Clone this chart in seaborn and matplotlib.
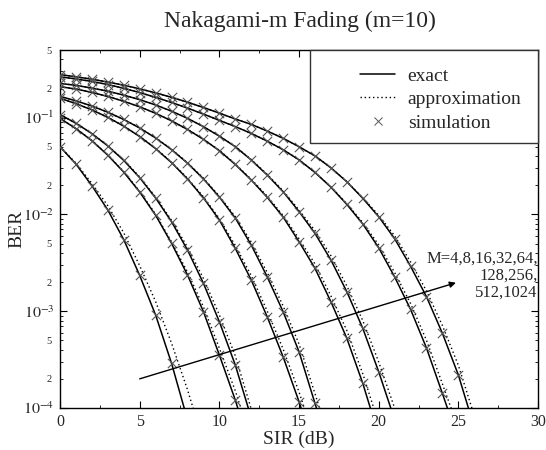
import numpy as np
import pandas as pd
import matplotlib
matplotlib.use("Agg")
import matplotlib.pyplot as plt
import seaborn as sns
from matplotlib.ticker import MultipleLocator
from matplotlib.patches import Rectangle
from matplotlib.lines import Line2D

# ---------------- data (log10 of BER) ----------------
sir_db = list(range(0, 27))
M_values = [4, 8, 16, 32, 64, 128, 256, 512, 1024]

exact_M4 = [-1.300, -1.479, -1.703, -1.954, -2.260, -2.630, -3.039, -3.538, -4.120]
approx_M4 = [-1.300, -1.470, -1.680, -1.910, -2.190, -2.530, -2.900, -3.330, -3.810, -4.350]

exact_M8 = [-1.008, -1.113, -1.238, -1.388, -1.563, -1.768, -2.008, -2.298, -2.625, -3.004, -3.452, -3.917, -4.450]
approx_M8 = [-1.008, -1.112, -1.236, -1.385, -1.558, -1.760, -1.998, -2.283, -2.595, -2.954, -3.382, -3.822, -4.330]

exact_M16 = [-0.968, -1.058, -1.165, -1.292, -1.442, -1.620, -1.830, -2.075, -2.367, -2.711, -3.108, -3.555, -4.100]
approx_M16 = [-0.968, -1.057, -1.163, -1.289, -1.437, -1.612, -1.820, -2.060, -2.337, -2.661, -3.038, -3.460, -4.010, -4.550]

exact_M32 = [-0.800, -0.855, -0.920, -0.997, -1.088, -1.195, -1.320, -1.465, -1.633, -1.828, -2.057, -2.350, -2.677, -3.056, -3.470, -3.934, -4.450]
approx_M32 = [-0.800, -0.855, -0.920, -0.997, -1.087, -1.193, -1.317, -1.460, -1.626, -1.818, -2.042, -2.320, -2.632, -2.996, -3.390, -3.834, -4.330]

exact_M64 = [-0.780, -0.826, -0.880, -0.944, -1.019, -1.107, -1.210, -1.330, -1.470, -1.632, -1.820, -2.037, -2.315, -2.643, -3.004, -3.418, -3.950, -4.500]
approx_M64 = [-0.780, -0.826, -0.880, -0.944, -1.019, -1.106, -1.208, -1.327, -1.465, -1.625, -1.810, -2.022, -2.285, -2.598, -2.944, -3.338, -3.850, -4.380]

exact_M128 = [-0.680, -0.704, -0.739, -0.781, -0.831, -0.888, -0.955, -1.033, -1.122, -1.224, -1.341, -1.484, -1.644, -1.822, -2.026, -2.281, -2.556, -2.901, -3.279, -3.744, -4.280]
approx_M128 = [-0.680, -0.704, -0.739, -0.781, -0.831, -0.888, -0.955, -1.033, -1.121, -1.222, -1.338, -1.479, -1.636, -1.810, -2.011, -2.251, -2.511, -2.841, -3.199, -3.644, -4.160]

exact_M256 = [-0.645, -0.667, -0.694, -0.727, -0.767, -0.814, -0.869, -0.933, -1.007, -1.093, -1.191, -1.300, -1.437, -1.592, -1.765, -1.970, -2.195, -2.470, -2.798, -3.176, -3.624, -4.120]
approx_M256 = [-0.645, -0.667, -0.694, -0.727, -0.767, -0.814, -0.869, -0.933, -1.007, -1.092, -1.189, -1.297, -1.432, -1.585, -1.755, -1.955, -2.165, -2.425, -2.738, -3.096, -3.524, -4.000, -4.520]

exact_M512 = [-0.578, -0.600, -0.626, -0.658, -0.697, -0.741, -0.790, -0.843, -0.901, -0.963, -1.028, -1.092, -1.163, -1.242, -1.331, -1.436, -1.566, -1.718, -1.896, -2.098, -2.344, -2.645, -2.980, -3.380, -3.850, -4.330]
approx_M512 = [-0.578, -0.600, -0.626, -0.658, -0.697, -0.741, -0.790, -0.843, -0.901, -0.963, -1.028, -1.092, -1.163, -1.242, -1.331, -1.436, -1.565, -1.715, -1.890, -2.083, -2.314, -2.600, -2.920, -3.300, -3.750, -4.210]

exact_M1024 = [-0.555, -0.578, -0.603, -0.632, -0.665, -0.702, -0.744, -0.790, -0.840, -0.895, -0.953, -1.014, -1.069, -1.138, -1.213, -1.300, -1.395, -1.518, -1.662, -1.833, -2.023, -2.250, -2.535, -2.850, -3.228, -3.658, -4.200]
approx_M1024 = [-0.555, -0.578, -0.603, -0.632, -0.665, -0.702, -0.744, -0.790, -0.840, -0.895, -0.953, -1.014, -1.069, -1.138, -1.213, -1.300, -1.395, -1.517, -1.660, -1.828, -2.008, -2.220, -2.490, -2.790, -3.148, -3.558, -4.080]

y_major = [1e-4, 1e-3, 1e-2, 1e-1]
y_major_labels = [r"$10^{-4}$", r"$10^{-3}$", r"$10^{-2}$", r"$10^{-1}$"]
legend_labels = ["exact", "approximation", "simulation"]
arrow_text = "M=4,8,16,32,64,\n128,256,\n512,1024"
title_text = "Nakagami-m Fading (m=10)"

exact_lists = [exact_M4, exact_M8, exact_M16, exact_M32, exact_M64,
               exact_M128, exact_M256, exact_M512, exact_M1024]
approx_lists = [approx_M4, approx_M8, approx_M16, approx_M32, approx_M64,
                approx_M128, approx_M256, approx_M512, approx_M1024]

def to_frame(lists):
    rows = []
    for M, vals in zip(M_values, lists):
        for s, v in zip(sir_db, vals):
            rows.append({"M": M, "SIR": s, "BER": 10.0 ** v})
    return pd.DataFrame(rows)

df_exact = to_frame(exact_lists)
df_approx = to_frame(approx_lists)
df_sim = df_exact[df_exact["BER"] >= 1e-4]

# ---------------- style ----------------
sns.set_theme(style="ticks")
plt.rcParams["font.family"] = ["Liberation Serif", "DejaVu Serif"]
plt.rcParams["mathtext.fontset"] = "stix"
plt.rcParams["axes.edgecolor"] = "black"
plt.rcParams["axes.linewidth"] = 1.0

fig = plt.figure(figsize=(5.46, 4.5), dpi=100)
ax = fig.add_axes([60 / 546, 1 - 408 / 450, 478 / 546, 358 / 450])

sns.lineplot(data=df_exact, x="SIR", y="BER", units="M", estimator=None,
             color="black", lw=1.1, ax=ax, legend=False)
sns.lineplot(data=df_approx, x="SIR", y="BER", units="M", estimator=None,
             color="black", lw=1.0, linestyle=(0, (1, 2)), ax=ax, legend=False)
sns.scatterplot(data=df_sim, x="SIR", y="BER", marker="x", color="#555555",
                s=45, linewidth=0.8, ax=ax, legend=False, zorder=3)

ax.set_yscale("log")
ax.set_xlim(0, 30)
ax.set_ylim(1e-4, 0.5)
ax.xaxis.set_major_locator(MultipleLocator(5))
ax.xaxis.set_minor_locator(MultipleLocator(2.5))

ax.set_yticks(y_major, labels=y_major_labels)
minor_pos, minor_lab = [], []
for dec in [1e-4, 1e-3, 1e-2, 1e-1]:
    for k in range(2, 10):
        v = k * dec
        if v <= 0.5 + 1e-9:
            minor_pos.append(v)
            minor_lab.append(str(k) if k in (2, 5) else "")
ax.set_yticks(minor_pos, labels=minor_lab, minor=True)

ax.tick_params(which="both", direction="in", top=True, right=True, color="black")
ax.tick_params(which="major", length=5, width=0.8, labelsize=11.5, pad=4)
ax.tick_params(which="minor", length=2.5, width=0.6)
ax.tick_params(axis="y", which="minor", labelsize=7.5, pad=6)
ax.tick_params(axis="x", which="minor", labelbottom=False)
for sp in ax.spines.values():
    sp.set_visible(True)
    sp.set_color("black")

ax.set_xlabel("SIR (dB)", fontsize=14, labelpad=1)
ax.set_ylabel("BER", fontsize=14)
ax.yaxis.set_label_coords(-0.073, 0.5)
fig.text(300 / 546, 1 - 21 / 450, title_text, ha="center", va="center", fontsize=17)

# arrow + annotation
ax.annotate("", xy=(24.85, 1.97e-3), xytext=(5, 2e-4),
            arrowprops=dict(arrowstyle="-|>", color="black", lw=1.0,
                            mutation_scale=9, shrinkA=0, shrinkB=0))
ax.text(0.999, 0.440, arrow_text, transform=ax.transAxes, ha="right", va="top",
        fontsize=12, multialignment="right", linespacing=1.1)

# legend box
rect = Rectangle(((310 - 60) / 478, (408 - 143) / 358), (538 - 310) / 478, (143 - 50) / 358,
                 transform=ax.transAxes, facecolor="white", edgecolor="#333333",
                 lw=1.0, zorder=8, clip_on=False)
ax.add_patch(rect)
handles = [Line2D([], [], color="black", lw=1.1),
           Line2D([], [], color="black", lw=1.0, linestyle=(0, (1, 2))),
           Line2D([], [], color="#555555", lw=0, marker="x", markersize=6, markeredgewidth=0.7)]
leg = ax.legend(handles, legend_labels, loc="upper left",
                bbox_to_anchor=((360 - 60) / 478, (408 - 67) / 358),
                frameon=False, fontsize=14, handlelength=1.8, handletextpad=0.65,
                labelspacing=0.3, borderpad=0, borderaxespad=0)
leg.set_zorder(10)

fig.savefig("out.png", dpi=100)
